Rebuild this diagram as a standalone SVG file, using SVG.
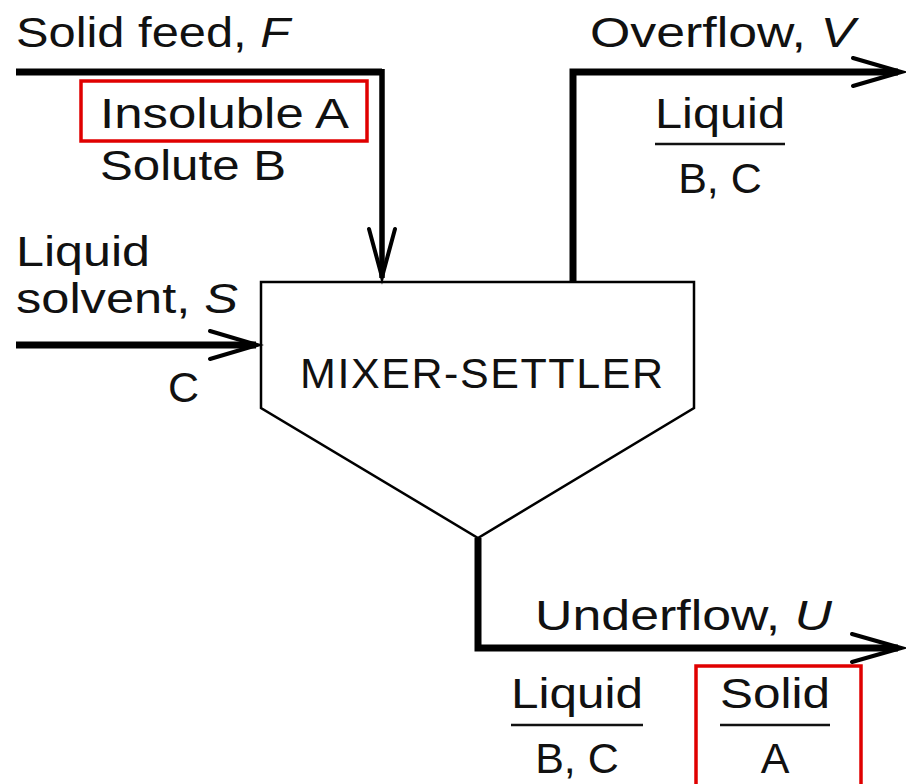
<svg xmlns="http://www.w3.org/2000/svg" width="906" height="784" viewBox="0 0 906 784">
  <style>
    text { font-family: "Liberation Sans", Arial, sans-serif; font-size: 43px; fill: #111; }
    .v { font-style: italic; }
    .stream { fill: none; stroke: #000; stroke-width: 7; stroke-linejoin: miter; }
    .feed { fill: none; stroke: #000; stroke-width: 5.5; }
    .head { fill: none; stroke: #000; stroke-width: 4; stroke-linejoin: miter; stroke-linecap: round; }
    .bar { stroke: #111; stroke-width: 2.5; }
    .hl { fill: none; stroke: #e00000; stroke-width: 3.5; }
    .vessel { fill: #fff; stroke: #000; stroke-width: 2.5; stroke-linejoin: miter; }
  </style>

  <rect width="906" height="784" fill="#fff"/>

  <!-- process unit -->
  <g id="mixer-settler">
    <path class="vessel" d="M261 282 H694 V408 L478 538 L261 408 Z"/>
    <text x="300" y="388" font-size="44" textLength="363" lengthAdjust="spacing">MIXER-SETTLER</text>
  </g>

  <!-- streams -->
  <g id="connectors">
    <!-- solid feed -->
    <path class="stream" d="M16 72 H382"/>
    <path class="feed" d="M382 69 V278"/>
    <path class="head" d="M369 229 L382 277 L395 229"/>
    <!-- liquid solvent -->
    <path class="stream" d="M16 345 H256"/>
    <path class="head" d="M210 331 L257 345 L210 359"/>
    <!-- overflow -->
    <path class="stream" d="M573 282 V72 H898"/>
    <path class="head" d="M853 58 L901 72 L853 86"/>
    <!-- underflow -->
    <path class="stream" d="M478 538 V648 H898"/>
    <path class="head" d="M852 634 L901 648 L852 662"/>
  </g>

  <g id="feed-label">
    <text x="16" y="47" textLength="274" lengthAdjust="spacingAndGlyphs">Solid feed, <tspan class="v">F</tspan></text>
    <rect class="hl" x="81" y="81" width="286" height="60"/>
    <text x="100" y="128" textLength="249" lengthAdjust="spacingAndGlyphs">Insoluble A</text>
    <text x="100" y="180" textLength="186" lengthAdjust="spacingAndGlyphs">Solute B</text>
  </g>

  <g id="solvent-label">
    <text x="16" y="266" textLength="134" lengthAdjust="spacingAndGlyphs">Liquid</text>
    <text x="16" y="313" textLength="222" lengthAdjust="spacingAndGlyphs">solvent, <tspan class="v">S</tspan></text>
    <text x="168" y="402">C</text>
  </g>

  <g id="overflow-label">
    <text x="590" y="47" textLength="265" lengthAdjust="spacingAndGlyphs">Overflow, <tspan class="v">V</tspan></text>
    <text x="655" y="128" textLength="130" lengthAdjust="spacingAndGlyphs">Liquid</text>
    <line class="bar" x1="655" y1="144" x2="785" y2="144"/>
    <text x="720" y="193" text-anchor="middle">B, C</text>
  </g>

  <g id="underflow-label">
    <text x="535" y="630" textLength="297" lengthAdjust="spacingAndGlyphs">Underflow, <tspan class="v">U</tspan></text>
    <text x="511" y="708" textLength="132" lengthAdjust="spacingAndGlyphs">Liquid</text>
    <line class="bar" x1="511" y1="725" x2="643" y2="725"/>
    <text x="577" y="773" text-anchor="middle">B, C</text>
    <rect class="hl" x="696" y="666" width="165" height="130"/>
    <text x="720" y="708" textLength="110" lengthAdjust="spacingAndGlyphs">Solid</text>
    <line class="bar" x1="720" y1="725" x2="830" y2="725"/>
    <text x="775" y="773" text-anchor="middle">A</text>
  </g>
</svg>
